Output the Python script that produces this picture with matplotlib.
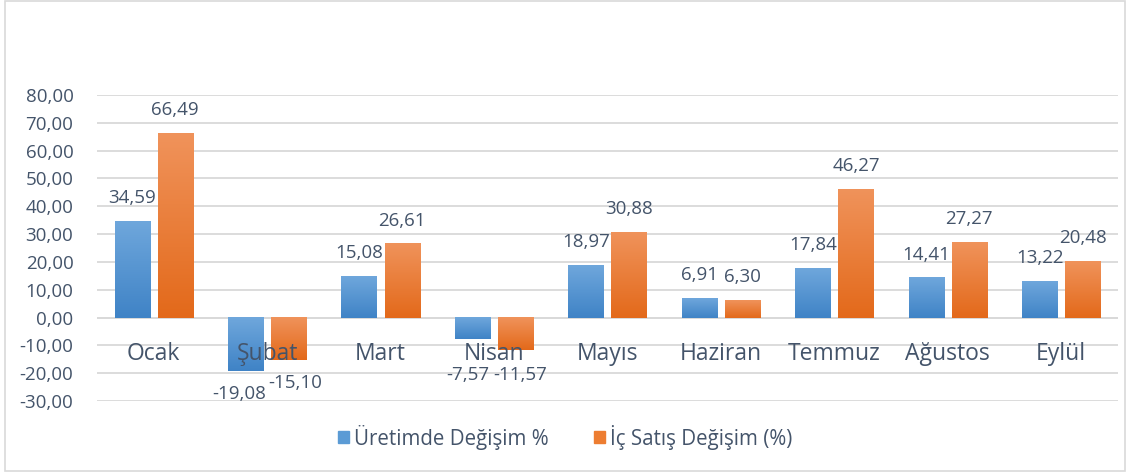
import matplotlib
matplotlib.use("Agg")
import matplotlib.pyplot as plt
import numpy as np
from matplotlib.patches import Rectangle
from matplotlib.colors import LinearSegmentedColormap

plt.rcParams['font.family'] = ['Open Sans', 'DejaVu Sans']

categories = ["Ocak", "Şubat", "Mart", "Nisan", "Mayıs", "Haziran", "Temmuz", "Ağustos", "Eylül"]
uretim = [34.59, -19.08, 15.08, -7.57, 18.97, 6.91, 17.84, 14.41, 13.22]
ic_satis = [66.49, -15.10, 26.61, -11.57, 30.88, 6.30, 46.27, 27.27, 20.48]
series_names = ["Üretimde Değişim %", "İç Satış Değişim (%)"]
yticks = [80, 70, 60, 50, 40, 30, 20, 10, 0, -10, -20, -30]

txt = "#44546A"
fs = 13.5
fig = plt.figure(figsize=(11.3, 4.75), dpi=100)
ax = fig.add_axes([97/1130, 1 - 401/475, (1118-97)/1130, (401-95)/475])

x = np.arange(len(categories))
w = 0.31
off = 0.19
cmaps = [LinearSegmentedColormap.from_list("b", ["#3F83C6", "#6FA7DC"]),
         LinearSegmentedColormap.from_list("o", ["#E3691A", "#F0935B"])]
legend_colors = ["#5B9BD5", "#ED7D31"]
grad = np.linspace(0, 1, 256).reshape(-1, 1)

neg_labels = {}
for si, (vals, cm) in enumerate(zip([uretim, ic_satis], cmaps)):
    pos = x + (-off if si == 0 else off)
    bars = ax.bar(pos, vals, w, color="none", edgecolor="none", zorder=2)
    for ci, (b, v) in enumerate(zip(bars, vals)):
        x0 = b.get_x(); x1 = x0 + b.get_width()
        y0 = min(0, v); y1 = max(0, v)
        ax.imshow(grad, extent=[x0, x1, y0, y1], origin="lower", cmap=cm,
                  aspect="auto", zorder=2, interpolation="bicubic")
        lab = f"{v:.2f}".replace(".", ",")
        cx = b.get_x() + b.get_width()/2
        if v >= 0:
            ax.annotate(lab, (cx, v), xytext=(0, 16.5), textcoords="offset points",
                        ha="center", va="center", fontsize=fs, color=txt, zorder=4)
        else:
            ly = min(v - 8.5, -20.8)
            t = ax.text(cx, ly, lab, ha="center", va="center", fontsize=fs, color=txt, zorder=4)
            neg_labels.setdefault(ci, []).append(t)

for i, c in enumerate(categories):
    ax.text(i, -13, c, ha="center", va="center", fontsize=16.5, color=txt, zorder=5)

ax.set_xlim(-0.5, len(categories) - 0.5)
ax.set_ylim(-30, 80)
ax.set_yticks(yticks)
ax.set_yticklabels([f"{t:.2f}".replace(".", ",") for t in yticks], fontsize=fs, color=txt)
ax.tick_params(axis="y", length=0, pad=17)
ax.set_xticks([])
for s in ax.spines.values():
    s.set_visible(False)
ax.grid(axis="y", color="#D9D9D9", linewidth=1.3, zorder=0)
ax.set_axisbelow(True)
ax.axhline(0, color="#D9D9D9", linewidth=1.3, zorder=1)

# push overlapping negative labels apart just enough
fig.canvas.draw()
r = fig.canvas.get_renderer()
px_per_unit = ax.transData.transform((1, 0))[0] - ax.transData.transform((0, 0))[0]
for ci, ts in neg_labels.items():
    if len(ts) == 2:
        e0 = ts[0].get_window_extent(r); e1 = ts[1].get_window_extent(r)
        ov = e0.x1 - e1.x0 + 3
        if ov > 0:
            d = ov / 2 / px_per_unit
            ts[0].set_x(ts[0].get_position()[0] - d)
            ts[1].set_x(ts[1].get_position()[0] + d)

handles = [Rectangle((0, 0), 1, 1, color=c) for c in legend_colors]
fig.legend(handles, series_names, loc="center", bbox_to_anchor=(565/1130, 1 - 437/475),
           ncol=2, frameon=False, fontsize=14.8, handlelength=0.55, handleheight=0.55,
           handletextpad=0.25, columnspacing=2.2, labelcolor=txt)

fig.patches.append(Rectangle((5/1130, 4/475), 1120/1130, 1 - 5/475, transform=fig.transFigure,
                             fill=False, edgecolor="#D9D9D9", linewidth=1.2))
fig.savefig("out.png", dpi=100)
